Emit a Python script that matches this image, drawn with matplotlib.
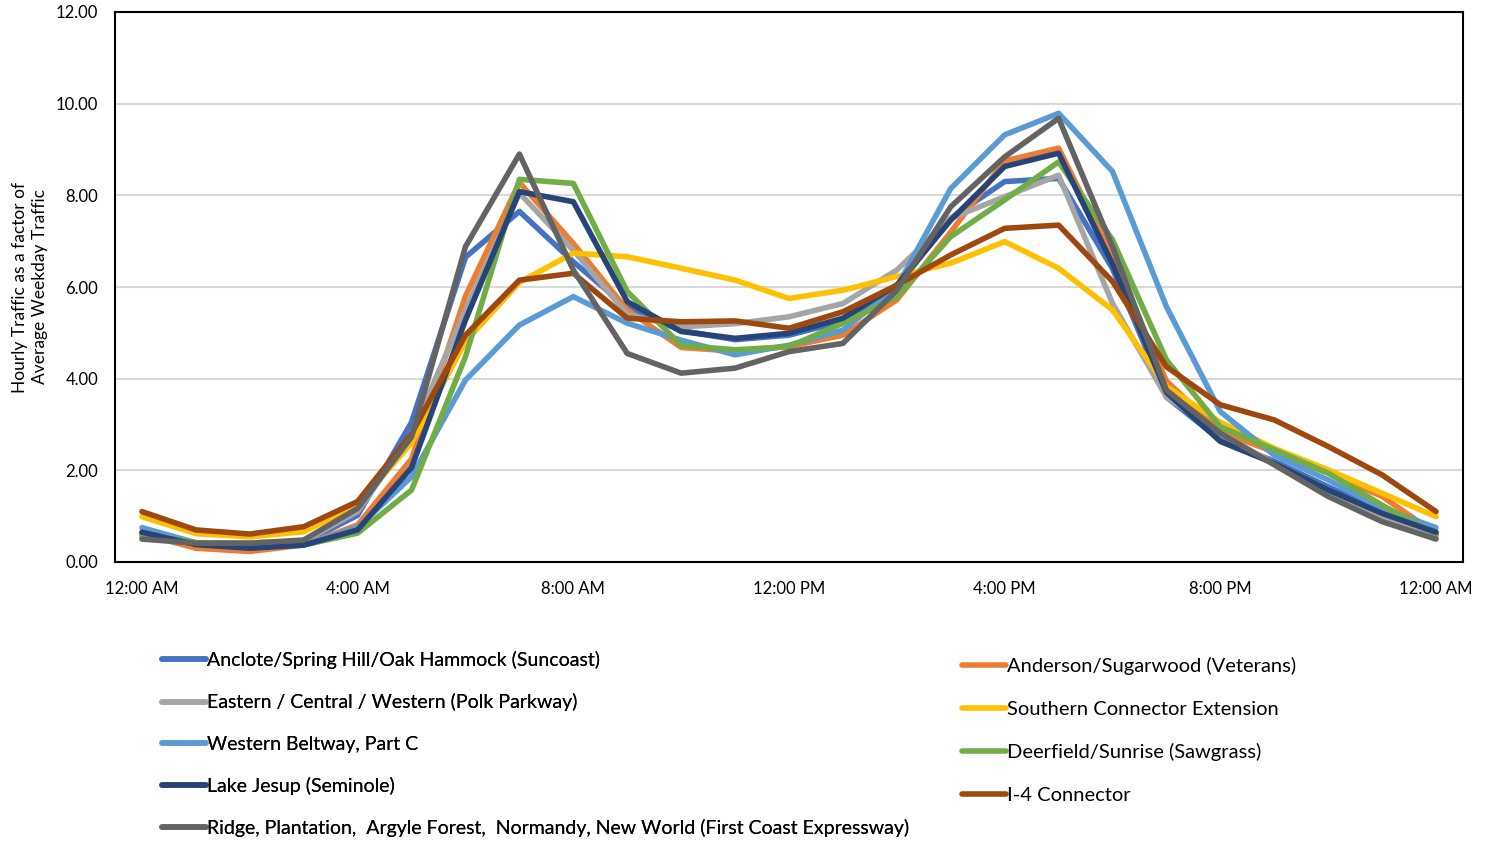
import numpy as np
import matplotlib
matplotlib.use("Agg")
import matplotlib.pyplot as plt
from matplotlib.lines import Line2D

plt.rcParams['font.family'] = ['Lato', 'DejaVu Sans']

# hours 0..24 (12:00 AM to 12:00 AM)
hours = list(range(25))
tick_hours = [0, 4, 8, 12, 16, 20, 24]
tick_labels = ["12:00 AM", "4:00 AM", "8:00 AM", "12:00 PM", "4:00 PM", "8:00 PM", "12:00 AM"]

anclote = [0.62, 0.42, 0.38, 0.42, 1.02, 3.05, 6.65, 7.65, 6.55, 5.55, 5.05, 4.85, 4.95,
           5.25, 6.00, 7.50, 8.30, 8.37, 6.40, 3.60, 2.66, 2.20, 1.64, 1.10, 0.62]
anderson = [0.62, 0.30, 0.23, 0.37, 0.81, 2.25, 5.80, 8.28, 6.95, 5.50, 4.68, 4.60, 4.70,
            4.95, 5.72, 7.20, 8.75, 9.03, 6.66, 3.95, 2.84, 2.40, 1.94, 1.43, 0.62]
eastern = [0.55, 0.42, 0.42, 0.45, 1.10, 2.80, 5.50, 8.05, 6.80, 5.40, 5.13, 5.20, 5.35,
           5.64, 6.37, 7.50, 7.97, 8.44, 5.64, 3.60, 2.80, 2.15, 1.50, 0.95, 0.55]
southern = [0.99, 0.62, 0.55, 0.66, 1.25, 2.60, 4.81, 6.10, 6.74, 6.66, 6.41, 6.15, 5.75,
            5.93, 6.23, 6.52, 6.99, 6.41, 5.50, 3.83, 3.05, 2.48, 2.01, 1.50, 0.99]
western_beltway = [0.75, 0.42, 0.38, 0.38, 0.75, 1.86, 3.97, 5.17, 5.79, 5.21, 4.84, 4.52, 4.73,
                   5.06, 6.00, 8.15, 9.32, 9.79, 8.52, 5.57, 3.28, 2.33, 1.79, 1.17, 0.75]
deerfield = [0.60, 0.42, 0.38, 0.37, 0.63, 1.57, 4.48, 8.35, 8.26, 5.90, 4.73, 4.63, 4.70,
             5.21, 5.79, 7.10, 7.90, 8.73, 7.03, 4.41, 2.95, 2.45, 1.94, 1.24, 0.60]
lake_jesup = [0.65, 0.38, 0.30, 0.37, 0.70, 2.06, 5.28, 8.08, 7.86, 5.68, 5.03, 4.88, 4.99,
              5.32, 6.04, 7.46, 8.63, 8.92, 6.50, 3.70, 2.63, 2.15, 1.57, 1.06, 0.65]
i4_connector = [1.10, 0.70, 0.61, 0.77, 1.32, 2.80, 4.95, 6.15, 6.30, 5.32, 5.24, 5.26, 5.10,
                5.46, 6.04, 6.70, 7.28, 7.35, 6.12, 4.26, 3.43, 3.10, 2.52, 1.90, 1.10]
ridge = [0.50, 0.41, 0.41, 0.48, 1.17, 2.73, 6.88, 8.90, 6.37, 4.55, 4.12, 4.23, 4.59,
         4.77, 5.93, 7.75, 8.84, 9.68, 6.88, 3.75, 2.81, 2.12, 1.43, 0.88, 0.50]

names = ["Anclote/Spring Hill/Oak Hammock (Suncoast)",
         "Anderson/Sugarwood (Veterans)",
         "Eastern / Central / Western (Polk Parkway)",
         "Southern Connector Extension",
         "Western Beltway, Part C",
         "Deerfield/Sunrise (Sawgrass)",
         "Lake Jesup (Seminole)",
         "I-4 Connector",
         "Ridge, Plantation,  Argyle Forest,  Normandy, New World (First Coast Expressway)"]
series = [anclote, anderson, eastern, southern, western_beltway, deerfield,
          lake_jesup, i4_connector, ridge]
colors = ["#4472C4", "#ED7D31", "#A5A5A5", "#FFC000", "#5B9BD5", "#70AD47",
          "#264478", "#9E480E", "#636363"]

fig = plt.figure(figsize=(14.9, 8.41), dpi=100)
ax = fig.add_axes([115 / 1490, 1 - 562 / 841, (1463 - 115) / 1490, (562 - 12) / 841])

for vals, name, c in zip(series, names, colors):
    ax.plot(hours, vals, color=c, lw=4.0, label=name,
            solid_joinstyle='round', solid_capstyle='round')

ax.set_xlim(-0.5, 24.5)
ax.set_ylim(0, 12)
ax.set_yticks(np.arange(0, 12.1, 2))
ax.set_yticklabels([f"{v:.2f}" for v in np.arange(0, 12.1, 2)])
ax.set_xticks(tick_hours)
ax.set_xticklabels(tick_labels)
ax.tick_params(length=0, labelsize=12, colors="#000000")
ax.tick_params(axis='y', pad=12)
ax.tick_params(axis='x', pad=14)
ax.grid(axis='y', color="#D9D9D9", lw=1.5)
ax.set_axisbelow(True)
for s in ax.spines.values():
    s.set_color("black")
    s.set_linewidth(1.5)

ax.set_ylabel("Hourly Traffic as a factor of\nAverage Weekday Traffic", fontsize=12.5,
              labelpad=6, linespacing=1.25)

left_idx = [0, 2, 4, 6, 8]
right_idx = [1, 3, 5, 7]

def make_legend(idx, x, y, size, spacing):
    hs = [Line2D([], [], color=colors[i], lw=4.0, solid_capstyle='round') for i in idx]
    leg = fig.legend(hs, [names[i] for i in idx], loc='upper left',
                     bbox_to_anchor=(x / 1490, 1 - y / 841), frameon=False,
                     fontsize=size, handlelength=44 / (size * 100 / 72),
                     handletextpad=0.05, labelspacing=spacing,
                     borderpad=0, borderaxespad=0)
    return leg

leg1 = make_legend(left_idx, 162, 651, 14, 1.245)
fig.add_artist(leg1)
make_legend(right_idx, 962, 657, 14.5, 1.27)

fig.savefig("out.png", dpi=100)
